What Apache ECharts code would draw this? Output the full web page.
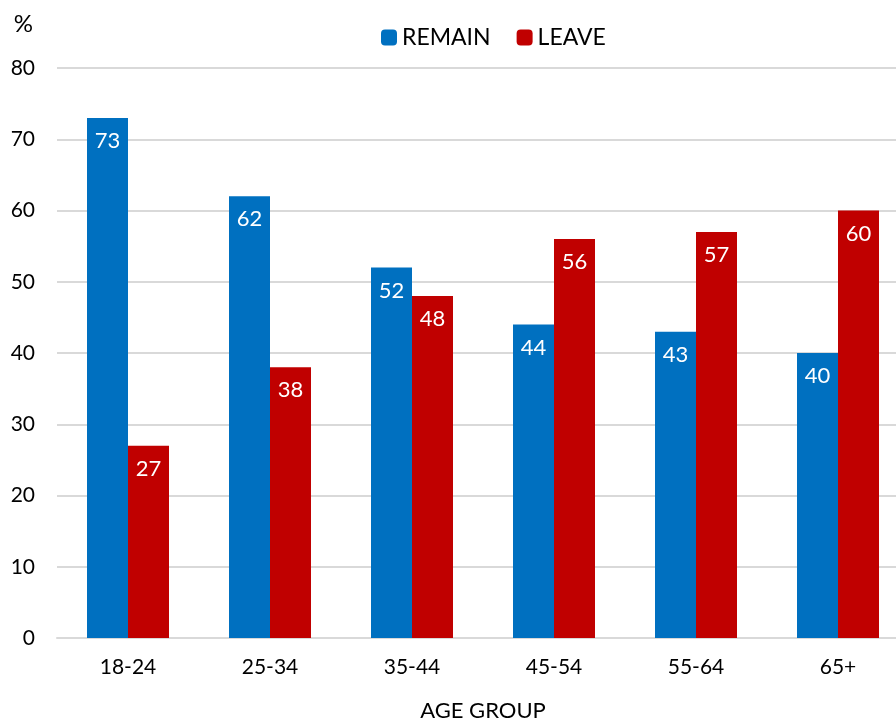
<!DOCTYPE html>
<html>
<head>
<meta charset="utf-8">
<script src="https://cdn.jsdelivr.net/npm/echarts@6/dist/echarts.min.js"></script>
<style>
  html, body { margin: 0; padding: 0; background: #fff; overflow: hidden; }
  #main { width: 896px; height: 722px; }
</style>
</head>
<body>
<div id="main"></div>
<script>
var ageGroups = ['18-24', '25-34', '35-44', '45-54', '55-64', '65+'];
var remain = [73, 62, 52, 44, 43, 40];
var leave = [27, 38, 48, 56, 57, 60];

var fontName = 'Lato';
var labelStyle = {
    show: true,
    position: 'insideTop',
    distance: 12,
    color: '#fff',
    fontSize: 22,
    fontFamily: fontName
};

var myChart = echarts.init(document.getElementById('main'));
var option = {
    animation: false,
    textStyle: { fontFamily: fontName },
    legend: {
        left: 376,
        top: 21,
        itemWidth: 16,
        itemHeight: 16,
        itemGap: 26,
        textStyle: { fontSize: 23, color: '#000', fontFamily: fontName },
        data: ['REMAIN', 'LEAVE']
    },
    grid: {
        left: 57,
        right: -13,
        top: 68,
        bottom: 84,
        containLabel: false,
        outerBoundsMode: 'none'
    },
    xAxis: {
        type: 'category',
        data: ageGroups,
        name: 'AGE GROUP',
        nameLocation: 'middle',
        nameGap: 62,
        nameTextStyle: { fontSize: 22, color: '#000', fontFamily: fontName },
        axisTick: { show: false },
        axisLine: { lineStyle: { color: '#d9d9d9', width: 2 } },
        axisLabel: { fontSize: 21, color: '#000', margin: 19, fontFamily: fontName }
    },
    yAxis: {
        type: 'value',
        min: 0,
        max: 80,
        interval: 10,
        name: '%',
        nameLocation: 'end',
        nameGap: 32,
        nameTextStyle: { fontSize: 24, color: '#000', align: 'right', padding: [0, 24, 0, 0] },
        axisLine: { show: false },
        axisTick: { show: false },
        axisLabel: { fontSize: 21, color: '#000', margin: 22, fontFamily: fontName },
        splitLine: { lineStyle: { color: '#d9d9d9', width: 2 } }
    },
    series: [{
        name: 'REMAIN',
        type: 'bar',
        data: remain,
        barWidth: 41,
        barGap: '0%',
        itemStyle: { color: '#0070C0' },
        label: labelStyle
    }, {
        name: 'LEAVE',
        type: 'bar',
        data: leave,
        barWidth: 41,
        barGap: '0%',
        itemStyle: { color: '#C00000' },
        label: labelStyle
    }]
};
myChart.setOption(option, true);
</script>
</body>
</html>
